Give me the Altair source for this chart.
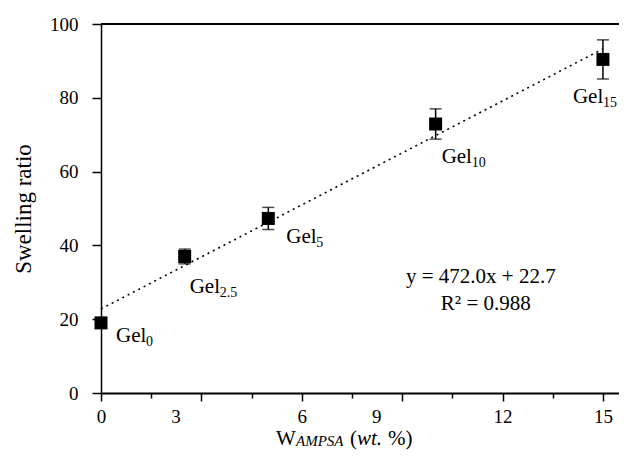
import altair as alt
import pandas as pd

# ---- data ----
w_ampsa = [0, 2.5, 5, 10, 15]               # wt.%
swelling = [19.0, 37.0, 47.3, 72.9, 90.4]    # swelling ratio
errors = [0.6, 2.0, 3.0, 4.1, 5.3]           # +/- error
subs = ["0", "2.5", "5", "10", "15"]          # Gel subscripts

x_ticks = [0, 1.5, 3, 4.5, 6, 7.5, 9, 10.5, 12, 13.5, 15]
y_ticks = [0, 10, 20, 30, 40, 50, 60, 70, 80, 90, 100]
eq_line1 = "y = 472.0x + 22.7"
eq_line2 = "R² = 0.988"

df = pd.DataFrame({
    "x": w_ampsa,
    "y": swelling,
    "lo": [v - e for v, e in zip(swelling, errors)],
    "hi": [v + e for v, e in zip(swelling, errors)],
    "sub": subs,
})

FONT = "Liberation Serif"
W, H = 518, 369
X_MAX = 15.48

xs = alt.Scale(domain=[0, X_MAX], nice=False, zero=False)
ys = alt.Scale(domain=[0, 100], nice=False)

x_axis = alt.Axis(
    values=x_ticks,
    labelExpr="datum.value % 3 == 0 ? datum.label : ''",
    labelOffset={"condition": {"test": "datum.value == 3 || datum.value == 9", "value": -26}, "value": 0},
    tickSize={"condition": {"test": "datum.value % 3 != 0", "value": 5}, "value": 8},
    labelFlush=False, labelOverlap=False, labelBound=False,
    labelFont=FONT, labelFontSize=19, labelColor="black", labelPadding=6,
    domainColor="black", domainWidth=2, tickColor="black", tickWidth=1.5,
    grid=False,
)
y_axis = alt.Axis(
    values=y_ticks,
    labelExpr="datum.value % 20 == 0 ? datum.label : ''",
    tickSize={"condition": {"test": "datum.value % 20 != 0", "value": 6}, "value": 9},
    labelOverlap=False, labelBound=False,
    labelFont=FONT, labelFontSize=19, labelColor="black", labelPadding=14,
    domainColor="black", domainWidth=1.5, tickColor="black", tickWidth=1.5,
    titleFont=FONT, titleFontSize=23, titleFontWeight="normal", titleColor="black",
    titlePadding=14,
    grid=False,
)

base = alt.Chart(df)

X = alt.X("x:Q", scale=xs, axis=x_axis, title="")
Y = alt.Y("y:Q", scale=ys, axis=y_axis, title="Swelling ratio")

trend = base.transform_regression("x", "y", extent=[0, 15]).mark_line(
    color="black", strokeDash=[2, 4], strokeWidth=1.6
).encode(x=X, y=Y)

err_rule = base.mark_rule(color="black", strokeWidth=1.5).encode(
    x=alt.X("x:Q", scale=xs), y=alt.Y("lo:Q", scale=ys), y2="hi:Q")
cap_lo = base.mark_tick(color="black", orient="horizontal", size=12, thickness=1.5).encode(
    x=alt.X("x:Q", scale=xs), y=alt.Y("lo:Q", scale=ys))
cap_hi = base.mark_tick(color="black", orient="horizontal", size=12, thickness=1.5).encode(
    x=alt.X("x:Q", scale=xs), y=alt.Y("hi:Q", scale=ys))

points = base.mark_point(shape="square", filled=True, size=169, color="black", opacity=1).encode(x=X, y=Y)

top_border = base.mark_rule(color="black", strokeWidth=1.5).encode(
    y=alt.datum(100), x=alt.value(0), x2=alt.value(W))

# label offsets (pixels) relative to each point: (dx, dy to baseline)
label_offsets = {"0": (15, 19), "2.5": (5, 37), "5": (18, 25), "10": (6, 39), "15": (-30, 44)}
label_layers = []
for s, (dx, dy) in label_offsets.items():
    sel = base.transform_filter(alt.datum.sub == s)
    label_layers.append(sel.mark_text(
        text="Gel", font=FONT, fontSize=21, align="left", baseline="alphabetic",
        dx=dx, dy=dy, color="black").encode(x=alt.X("x:Q", scale=xs), y=alt.Y("y:Q", scale=ys)))
    label_layers.append(sel.mark_text(
        font=FONT, fontSize=14, align="left", baseline="alphabetic",
        dx=dx + 30, dy=dy + 4, color="black").encode(
        x=alt.X("x:Q", scale=xs), y=alt.Y("y:Q", scale=ys), text="sub:N"))

eq_df = pd.DataFrame({"x": [11.35, 11.5], "y": [29.7, 22.4], "t": [eq_line1, eq_line2]})
equation = alt.Chart(eq_df).mark_text(
    font=FONT, fontSize=21, align="center", baseline="alphabetic", color="black"
).encode(x=alt.X("x:Q", scale=xs), y=alt.Y("y:Q", scale=ys), text="t:N")

# x-axis title with mixed styles
one = alt.Data(values=[{"k": 1}])
def title_piece(txt, px, py, size, style="normal"):
    return alt.Chart(one).mark_text(
        text=txt, font=FONT, fontSize=size, fontStyle=style, align="left",
        baseline="alphabetic", color="black").encode(x=alt.value(px), y=alt.value(py))

TY = 421
xt = [
    title_piece("W", 175, TY, 21),
    title_piece("AMPSA", 195, TY + 1, 15, "italic"),
    title_piece("(", 249, TY, 21),
    title_piece("wt.", 256, TY, 21, "italic"),
    title_piece("%)", 287, TY, 21),
]

chart = alt.layer(
    top_border, trend, err_rule, cap_lo, cap_hi, points, equation, *label_layers, *xt
).properties(
    width=W, height=H,
    autosize=alt.AutoSizeParams(type="none"),
    padding={"left": 93, "top": 16, "right": 0, "bottom": 58},
).configure_view(stroke=None).configure(background="white")

chart.save("out.html", embed_options={"renderer": "svg", "actions": False})
